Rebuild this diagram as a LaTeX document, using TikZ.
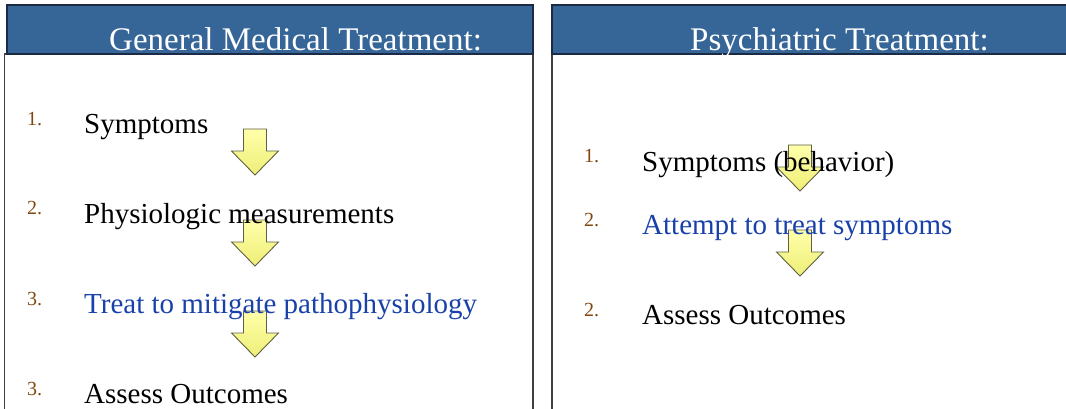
\documentclass[tikz,border=0pt]{standalone}
\usepackage{fontspec}
\setmainfont{Liberation Serif}
\definecolor{headblue}{RGB}{54,101,152}
\definecolor{headedge}{RGB}{28,42,70}
\definecolor{numbrown}{RGB}{128,72,16}
\definecolor{stepblue}{RGB}{25,65,170}
\definecolor{arrowtop}{RGB}{255,255,170}
\definecolor{arrowbot}{RGB}{238,238,120}
\definecolor{arrowedge}{RGB}{95,95,70}
\tikzset{
  flowarrow/.style={top color=arrowtop,bottom color=arrowbot,draw=arrowedge,line width=0.9pt,line join=miter},
  downarrow/.pic={
    \path[flowarrow] (-11.5,0) -- (11.5,0) -- (11.5,22) -- (23.5,22) -- (0,46)
      -- (-23.5,22) -- (-11.5,22) -- cycle;
  }
}
\begin{document}
\begin{tikzpicture}[x=1pt,y=-1pt,
  header/.style={fill=headblue,draw=headedge,line width=1.4pt},
  panel/.style={draw=black!75,line width=1.6pt},
  title/.style={anchor=base west,inner sep=0,text=white,font=\fontsize{33}{36}\selectfont},
  num/.style={anchor=base west,inner sep=0,text=numbrown,font=\fontsize{20}{22}\selectfont},
  item/.style={anchor=base west,inner sep=0,font=\fontsize{29}{32}\selectfont},
  blueitem/.style={item,text=stepblue}]
\useasboundingbox (0,0) rectangle (1066,408);
\clip (0,0) rectangle (1066,408);
\fill[white] (0,0) rectangle (1066,408);

% panel frames
\draw[panel] (4.5,54) rectangle (533,440);
\draw[panel] (552,54) rectangle (1090,440);

% panel headers
\draw[header] (7,5) rectangle (533,54);
\draw[header] (552,5) rectangle (1090,54);
\node[title] (lt) at (109,50) {General Medical Treatment:};
\node[title] (rt) at (690,50) {Psychiatric Treatment:};

% step arrows, left column
\pic (la1) at (255,129) {downarrow};
\pic (la2) at (255,220) {downarrow};
\pic (la3) at (255,311) {downarrow};
% step arrows, right column
\pic (ra1) at (800,145) {downarrow};
\pic (ra2) at (800,230) {downarrow};

% left column steps
\node[num]  (l1n) at (27,125) {1.};
\node[item] (l1)  at (84,133) {Symptoms};
\node[num]  (l2n) at (27,214) {2.};
\node[item] (l2)  at (84,223) {Physiologic measurements};
\node[num]  (l3n) at (27,305) {3.};
\node[blueitem] (l3) at (84,313) {Treat to mitigate pathophysiology};
\node[num]  (l4n) at (27,395) {3.};
\node[item] (l4)  at (84,403) {Assess Outcomes};

% right column steps
\node[num]  (r1n) at (584,162) {1.};
\node[item] (r1)  at (642,171) {Symptoms (behavior)};
\node[num]  (r2n) at (584,226) {2.};
\node[blueitem] (r2) at (642,234) {Attempt to treat symptoms};
\node[num]  (r3n) at (584,316) {2.};
\node[item] (r3)  at (642,324) {Assess Outcomes};
\end{tikzpicture}
\end{document}
